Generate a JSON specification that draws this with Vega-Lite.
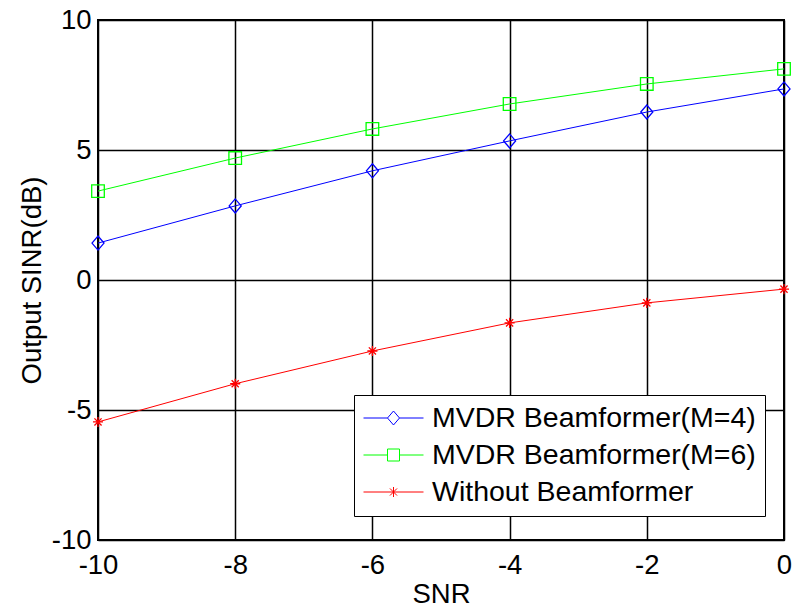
{
  "$schema": "https://vega.github.io/schema/vega-lite/v6.json",
  "width": 686,
  "height": 520,
  "autosize": "none",
  "padding": {"left": 98, "top": 20, "right": 11, "bottom": 70},
  "background": "white",
  "config": {
    "font": "Liberation Sans",
    "view": {"stroke": "black", "strokeWidth": 2},
    "axis": {
      "labelFont": "Liberation Sans",
      "titleFont": "Liberation Sans",
      "labelFontSize": 27.5,
      "titleFontSize": 27.5,
      "titleFontWeight": "normal",
      "labelColor": "black",
      "titleColor": "black",
      "grid": true,
      "gridColor": "black",
      "gridWidth": 1.5,
      "gridOpacity": 1,
      "ticks": false,
      "domain": false
    },
    "legend": {
      "labelFont": "Liberation Sans",
      "labelFontSize": 28.5,
      "labelColor": "black",
      "labelLimit": 0
    }
  },
  "data": {
    "values": [
      {"snr": -10, "sinr": 1.42, "series": "MVDR Beamformer(M=4)"},
      {"snr": -8, "sinr": 2.85, "series": "MVDR Beamformer(M=4)"},
      {"snr": -6, "sinr": 4.2, "series": "MVDR Beamformer(M=4)"},
      {"snr": -4, "sinr": 5.35, "series": "MVDR Beamformer(M=4)"},
      {"snr": -2, "sinr": 6.46, "series": "MVDR Beamformer(M=4)"},
      {"snr": 0, "sinr": 7.35, "series": "MVDR Beamformer(M=4)"},
      {"snr": -10, "sinr": 3.42, "series": "MVDR Beamformer(M=6)"},
      {"snr": -8, "sinr": 4.69, "series": "MVDR Beamformer(M=6)"},
      {"snr": -6, "sinr": 5.81, "series": "MVDR Beamformer(M=6)"},
      {"snr": -4, "sinr": 6.77, "series": "MVDR Beamformer(M=6)"},
      {"snr": -2, "sinr": 7.54, "series": "MVDR Beamformer(M=6)"},
      {"snr": 0, "sinr": 8.12, "series": "MVDR Beamformer(M=6)"},
      {"snr": -10, "sinr": -5.46, "series": "Without Beamformer"},
      {"snr": -8, "sinr": -3.99, "series": "Without Beamformer"},
      {"snr": -6, "sinr": -2.73, "series": "Without Beamformer"},
      {"snr": -4, "sinr": -1.65, "series": "Without Beamformer"},
      {"snr": -2, "sinr": -0.88, "series": "Without Beamformer"},
      {"snr": 0, "sinr": -0.35, "series": "Without Beamformer"}
    ]
  },
  "encoding": {
    "x": {
      "field": "snr",
      "type": "quantitative",
      "title": "SNR",
      "scale": {"domain": [-10, 0], "nice": false, "zero": false},
      "axis": {"values": [-10, -8, -6, -4, -2, 0], "labelPadding": 11, "titlePadding": 2, "labelFlush": false, "labelExpr": "'' + datum.value"}
    },
    "y": {
      "field": "sinr",
      "type": "quantitative",
      "title": "Output SINR(dB)",
      "scale": {"domain": [-10, 10], "nice": false, "zero": false},
      "axis": {"values": [-10, -5, 0, 5, 10], "labelPadding": 7, "titlePadding": 5, "labelFlush": false, "labelExpr": "'' + datum.value"}
    },
    "color": {
      "field": "series",
      "type": "nominal",
      "scale": {
        "domain": ["MVDR Beamformer(M=4)", "MVDR Beamformer(M=6)", "Without Beamformer"],
        "range": ["#0000FF", "#00FF00", "#FF0000"]
      },
      "legend": {
        "title": null,
        "orient": "none",
        "legendX": 256,
        "legendY": 375,
        "padding": 9,
        "rowPadding": 8,
        "labelOffset": 8,
        "clipHeight": 28,
        "symbolSize": 3600,
        "symbolStrokeWidth": 1,
        "strokeColor": "black",
        "fillColor": "white",
        "cornerRadius": 0,
        "encode": {
          "legend": {"update": {"strokeWidth": {"value": 1}}},
          "symbols": {
            "update": {
              "shape": {"signal": "datum.value === 'MVDR Beamformer(M=4)' ? 'M-1,0L-0.2,0M0.2,0L1,0M-0.2,0L0,-0.233L0.2,0L0,0.233Z' : datum.value === 'MVDR Beamformer(M=6)' ? 'M-1,0L-0.2,0M0.2,0L1,0M-0.2,-0.2L0.2,-0.2L0.2,0.2L-0.2,0.2Z' : 'M-1,0L1,0M0,-0.167L0,0.167M-0.118,-0.118L0.118,0.118M-0.118,0.118L0.118,-0.118'"},
              "size": {"value": 3600},
              "strokeWidth": {"value": 1},
              "fill": {"value": "transparent"},
              "opacity": {"value": 1}
            }
          }
        }
      }
    }
  },
  "layer": [
    {
      "mark": {"type": "line", "strokeWidth": 1}
    },
    {
      "transform": [{"filter": "datum.series === 'MVDR Beamformer(M=4)'"}],
      "mark": {"type": "point", "filled": false, "strokeWidth": 1.3, "size": 196, "opacity": 1, "shape": "M-0.86,0L0,-1L0.86,0L0,1Z"}
    },
    {
      "transform": [{"filter": "datum.series === 'MVDR Beamformer(M=6)'"}],
      "mark": {"type": "point", "filled": false, "strokeWidth": 1.3, "size": 196, "opacity": 1, "shape": "M-0.9,-0.9L0.9,-0.9L0.9,0.9L-0.9,0.9Z"}
    },
    {
      "transform": [{"filter": "datum.series === 'Without Beamformer'"}],
      "mark": {"type": "point", "filled": false, "strokeWidth": 1.3, "size": 196, "opacity": 1, "shape": "M-0.72,0L0.72,0M0,-0.72L0,0.72M-0.51,-0.51L0.51,0.51M-0.51,0.51L0.51,-0.51"}
    }
  ]
}
